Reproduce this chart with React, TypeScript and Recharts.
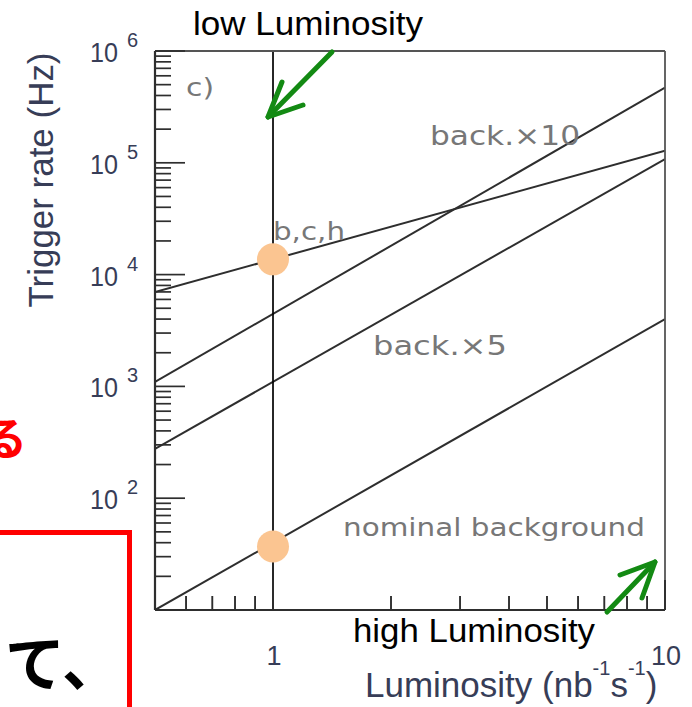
import React from 'react'
import { ComposedChart, Line, Scatter, XAxis, YAxis, ReferenceLine } from 'recharts'

// luminosity range (nb^-1 s^-1) at the left / right edge of the frame
const lumEdges = [0.5, 10]
// trigger rates (Hz) read at those two edges
const backX10 = [1095, 470000]
const backX5 = [276, 108000]
const nominalBg = [10, 4000]
const bchRate = [6980, 128000]
// the two operating points marked at L = 1
const markerLum = 1
const markerRates = [13700, 37]

const decades = [10, 100, 1000, 10000, 100000, 1000000]
const minorSteps = [2, 3, 4, 5, 6, 7, 8, 9]
const lumTicks = [0.6, 0.7, 0.8, 0.9, 1, 2, 3, 4, 5, 6, 7, 8, 9, 10]
const lumMajor = [1, 10]

const toPts = (ys: number[]) => lumEdges.map((x, i) => ({ x, y: ys[i] }))
const rateTicks = decades.flatMap((d) => (d < 1e6 ? [d, ...minorSteps.map((m) => m * d)] : [d]))
const markers = markerRates.map((y) => ({ x: markerLum, y }))

const LABEL = '#373d57'
const LINE = '#2e2e2e'

function YTick(props: any) {
  const { x, y, payload } = props
  const v = payload.value
  const exp = Math.round(Math.log10(v))
  const major = Math.abs(v - Math.pow(10, exp)) < v * 1e-6
  return (
    <g>
      <line x1={x} x2={x + (major ? 30 : 16)} y1={y} y2={y} stroke={LINE} strokeWidth={1.7} />
      {major && exp >= 2 && (
        <g fontFamily="Liberation Sans, Arial, sans-serif" fill={LABEL}>
          <text x={x - 37} y={y + 11} fontSize={28} textAnchor="end" textLength={28} lengthAdjust="spacingAndGlyphs">10</text>
          <text x={x - 28} y={y - 4} fontSize={20}>{exp}</text>
        </g>
      )}
    </g>
  )
}

function XTick(props: any) {
  const { x, y, payload } = props
  const major = lumMajor.includes(payload.value)
  return (
    <g>
      <line x1={x} x2={x} y1={y} y2={y - (major ? 30 : 14)} stroke={LINE} strokeWidth={1.9} />
      {major && (
        <text
          x={x + 1}
          y={y + 55}
          fontSize={27}
          textAnchor="middle"
          fontFamily="Liberation Sans, Arial, sans-serif"
          fill={LABEL}
        >
          {payload.value}
        </text>
      )}
    </g>
  )
}

const Dot = (p: any) => <circle cx={p.cx} cy={p.cy} r={16} fill="#fbc591" />

export default function App() {
  const inPlot = { fontFamily: 'DejaVu Sans, sans-serif', fill: '#777', lengthAdjust: 'spacingAndGlyphs' as const }
  const big = { fontFamily: 'Liberation Sans, Arial, sans-serif', fill: '#000', lengthAdjust: 'spacingAndGlyphs' as const }
  return (
    <div style={{ position: 'absolute', left: 0, top: 0, width: 692, height: 707, background: '#fff', overflow: 'hidden' }}>
      <ComposedChart width={692} height={707} margin={{ top: 0, right: 0, bottom: 0, left: 0 }}>
        <XAxis
          dataKey="x"
          type="number"
          scale="log"
          domain={[0.5, 10]}
          allowDataOverflow
          ticks={lumTicks}
          interval={0}
          tickSize={0}
          tickMargin={0}
          tickLine={false}
          tick={<XTick />}
          height={97}
          axisLine={{ stroke: LINE, strokeWidth: 2.2 }}
        />
        <XAxis
          xAxisId="top"
          orientation="top"
          type="number"
          scale="log"
          domain={[0.5, 10]}
          allowDataOverflow
          tick={false}
          tickLine={false}
          height={51}
          axisLine={{ stroke: '#555', strokeWidth: 1.8 }}
        />
        <YAxis
          dataKey="y"
          type="number"
          scale="log"
          domain={[10, 1000000]}
          allowDataOverflow
          ticks={rateTicks}
          interval={0}
          tickSize={0}
          tickMargin={0}
          tickLine={false}
          tick={<YTick />}
          width={155}
          axisLine={{ stroke: LINE, strokeWidth: 2.2 }}
        />
        <YAxis
          yAxisId="right"
          orientation="right"
          type="number"
          scale="log"
          domain={[10, 1000000]}
          allowDataOverflow
          tick={false}
          tickLine={false}
          width={27}
          axisLine={{ stroke: '#555', strokeWidth: 1.8 }}
        />
        <Line data={toPts(backX10)} dataKey="y" type="linear" stroke={LINE} strokeWidth={2} dot={false} isAnimationActive={false} />
        <Line data={toPts(backX5)} dataKey="y" type="linear" stroke={LINE} strokeWidth={2} dot={false} isAnimationActive={false} />
        <Line data={toPts(nominalBg)} dataKey="y" type="linear" stroke={LINE} strokeWidth={2} dot={false} isAnimationActive={false} />
        <Line data={toPts(bchRate)} dataKey="y" type="linear" stroke={LINE} strokeWidth={2} dot={false} isAnimationActive={false} />
        <ReferenceLine x={markerLum} stroke="#000" strokeWidth={1.7} />
        <Scatter data={markers} dataKey="y" shape={Dot} isAnimationActive={false} />
      </ComposedChart>

      <svg width={692} height={707} style={{ position: 'absolute', left: 0, top: 0, pointerEvents: 'none' }}>
        {/* axis titles */}
        <text
          transform="translate(53,180) rotate(-90)"
          textAnchor="middle"
          fontSize={35}
          fontFamily="Liberation Sans, Arial, sans-serif"
          fill={LABEL}
          textLength={255}
          lengthAdjust="spacingAndGlyphs"
        >
          Trigger rate (Hz)
        </text>
        <text x={365} y={697} fontSize={35} fontFamily="Liberation Sans, Arial, sans-serif" fill={LABEL}>
          Luminosity (nb
          <tspan fontSize={20} dy={-22}>-1</tspan>
          <tspan fontSize={35} dy={22}>s</tspan>
          <tspan fontSize={20} dy={-22}>-1</tspan>
          <tspan fontSize={35} dy={22}>)</tspan>
        </text>

        {/* labels inside the frame */}
        <text x={186} y={96} fontSize={25} textLength={28} {...inPlot}>c)</text>
        <text x={430} y={145} fontSize={26} textLength={150} {...inPlot}>back.×10</text>
        <text x={273} y={240} fontSize={24} textLength={72} {...inPlot}>b,c,h</text>
        <text x={373} y={355} fontSize={26} textLength={134} {...inPlot}>back.×5</text>
        <text x={343} y={536} fontSize={25} textLength={302} {...inPlot}>nominal background</text>

        {/* slide annotations */}
        <text x={193} y={35} fontSize={34} textLength={230} {...big}>low Luminosity</text>
        <text x={353} y={642} fontSize={34} textLength={242} {...big}>high Luminosity</text>
        <g stroke="#138a13" strokeWidth={5} fill="none" strokeLinecap="round" strokeLinejoin="round">
          <line x1={332} y1={52} x2={268} y2={117} />
          <polyline points="303,105 268,117 282,82" />
          <line x1={607} y1={612} x2={655} y2={562} />
          <polyline points="620,575 655,562 642,598" />
        </g>
        <path d="M0,532.5 H129.5 V707" stroke="#ff0000" strokeWidth={5} fill="none" />
        <text x={-17} y={455} fontSize={44} fontWeight={700} fontFamily="Noto Sans CJK JP" fill="#ff0000">る</text>
        <text x={5} y={686} fontSize={60} fontWeight={700} fontFamily="Noto Sans CJK JP" fill="#000">て、</text>
      </svg>
    </div>
  )
}
